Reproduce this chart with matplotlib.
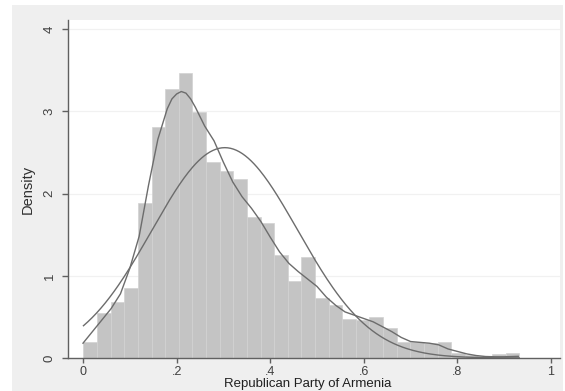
import numpy as np
import matplotlib
matplotlib.use("Agg")
import matplotlib.pyplot as plt
from matplotlib.patches import Rectangle

plt.rcParams['font.family'] = ['Liberation Sans', 'DejaVu Sans']

# ---- data ----
bin_start = 0.001
bin_width = 0.0291
bar_heights = [0.20, 0.55, 0.68, 0.85, 1.89, 2.81, 3.27, 3.47, 2.99, 2.38,
               2.27, 2.18, 1.72, 1.64, 1.25, 0.94, 1.23, 0.73, 0.64, 0.47,
               0.46, 0.50, 0.36, 0.20, 0.19, 0.18, 0.19, 0.06, 0.04, 0.03,
               0.05, 0.065]

kde_x = [0.000, 0.02, 0.04, 0.06, 0.08, 0.10, 0.12, 0.14, 0.16, 0.18, 0.19,
         0.20, 0.21, 0.22, 0.23, 0.24, 0.26, 0.28, 0.30, 0.32, 0.34, 0.36,
         0.38, 0.40, 0.42, 0.44, 0.46, 0.48, 0.50, 0.52, 0.54, 0.56, 0.58,
         0.60, 0.62, 0.64, 0.66, 0.68, 0.70, 0.72, 0.74, 0.76, 0.78, 0.80,
         0.82, 0.84, 0.86, 0.88, 0.90, 0.93]
kde_y = [0.18, 0.32, 0.46, 0.60, 0.78, 1.09, 1.48, 2.10, 2.66, 3.03, 3.15,
         3.21, 3.24, 3.22, 3.15, 3.05, 2.82, 2.64, 2.38, 2.14, 1.96, 1.82,
         1.66, 1.47, 1.29, 1.15, 1.05, 0.96, 0.87, 0.74, 0.64, 0.56, 0.52,
         0.48, 0.44, 0.38, 0.32, 0.25, 0.20, 0.19, 0.18, 0.16, 0.11, 0.08,
         0.05, 0.03, 0.018, 0.015, 0.015, 0.02]

normal_mean = 0.303
normal_sd = 0.156
data_min, data_max = 0.001, 0.932

x_ticks = [0, 0.2, 0.4, 0.6, 0.8, 1.0]
x_ticklabels = ['0', '.2', '.4', '.6', '.8', '1']
y_ticks = [0, 1, 2, 3, 4]
y_ticklabels = ['0', '1', '2', '3', '4']

# ---- figure ----
W, H = 565, 391
fig = plt.figure(figsize=(W / 100, H / 100), dpi=100)
fig.patch.set_facecolor('white')
fig.add_artist(Rectangle((12 / W, 0), (563 - 12) / W, (H - 5) / H,
                         transform=fig.transFigure, facecolor='#efefef',
                         edgecolor='none', zorder=0))

ax_left, ax_right, ax_top, ax_bottom = 68, 560, 20, 358
ax = fig.add_axes([ax_left / W, (H - ax_bottom) / H,
                   (ax_right - ax_left) / W, (ax_bottom - ax_top) / H])
ax.set_facecolor('white')
ax.set_zorder(1)

# gridlines
for yv in [1, 2, 3, 4]:
    ax.axhline(yv, color='#f1f1f1', lw=0.9, zorder=0.5)

lefts = [bin_start + i * bin_width for i in range(len(bar_heights))]
ax.bar(lefts, bar_heights, width=bin_width, align='edge', color='#c4c4c4',
       edgecolor='#d2d2d2', linewidth=0.5, zorder=1)

ax.plot(kde_x, kde_y, color='#6c6c6c', lw=1.0, zorder=2)
xn = np.linspace(data_min, data_max, 300)
yn = np.exp(-0.5 * ((xn - normal_mean) / normal_sd) ** 2) / (normal_sd * np.sqrt(2 * np.pi))
ax.plot(xn, yn, color='#6c6c6c', lw=1.0, zorder=2)

ax.set_xlim(-15 / 468, 477 / 468)
ax.set_ylim(0, 338 / 82.25)

for s in ['top', 'right']:
    ax.spines[s].set_visible(False)
for s in ['left', 'bottom']:
    ax.spines[s].set_color('#606060')
    ax.spines[s].set_linewidth(1.0)

ax.set_xticks(x_ticks)
ax.set_xticklabels(x_ticklabels)
ax.set_yticks(y_ticks)
ax.set_yticklabels(y_ticklabels, rotation=90, va='center')
ax.tick_params(axis='both', direction='out', length=4, width=1.0,
               color='#606060', labelcolor='#404040', labelsize=9.5)
ax.tick_params(axis='x', length=3.5, pad=2, labelsize=9)
ax.tick_params(axis='y', pad=5)

ax.set_ylabel('Density', fontsize=10.5, color='#303030', labelpad=6)
ax.set_xlabel('Republican Party of Armenia', fontsize=9.5, color='#202020',
              va='bottom')
ax.xaxis.set_label_coords((308 - ax_left) / (ax_right - ax_left),
                          -(390.5 - ax_bottom) / (ax_bottom - ax_top))

fig.savefig('out.png', dpi=100, facecolor=fig.get_facecolor())
